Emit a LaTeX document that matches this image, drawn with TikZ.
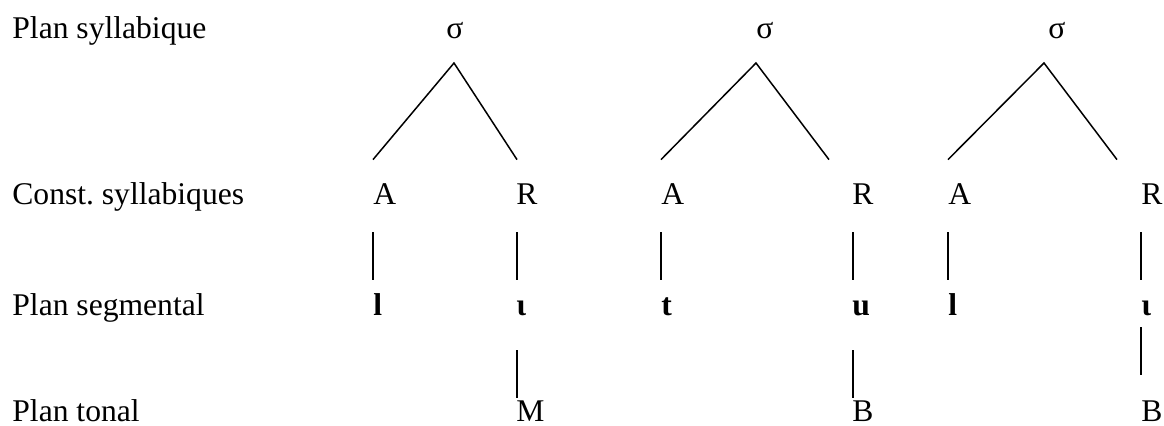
\documentclass[tikz,border=0pt]{standalone}
\usepackage{fontspec}
\setmainfont{Liberation Serif}

\tikzset{
  plan/.style={anchor=base west, inner sep=0pt},
  unit/.style={anchor=base west, inner sep=0pt, text height=10pt, text depth=0pt},
  seg/.style={unit, font=\fontsize{15.8}{19}\selectfont\bfseries},
  sig/.style={anchor=base, inner sep=0pt},
  trait/.style={line width=0.75pt}
}

\begin{document}
\begin{tikzpicture}[x=0.5pt, y=-0.5pt, font=\fontsize{15.8}{19}\selectfont]
    \useasboundingbox (0,0) rectangle (1164,425);
    % plans
    \node[plan] (p1) at (12,38) {Plan syllabique};
    \node[plan] (p2) at (12,204) {Const.\ syllabiques};
    \node[plan] (p3) at (12,315) {Plan segmental};
    \node[plan] (p4) at (12,421) {Plan tonal};
    % syllabes
    \node[sig] (s1) at (455,38) {σ};
    \node[sig] (s2) at (765,38) {σ};
    \node[sig] (s3) at (1057,38) {σ};
    % constituants
    \node[unit] (a1) at (373,204) {A};
    \node[unit] (r1) at (516,204) {R};
    \node[unit] (a2) at (661,204) {A};
    \node[unit] (r2) at (852,204) {R};
    \node[unit] (a3) at (948,204) {A};
    \node[unit] (r3) at (1141,204) {R};
    % segments
    \node[seg] (l1) at (373,315) {l};
    \node[seg] (i1) at (516,315) {ɩ};
    \node[seg] (t2) at (661,315) {t};
    \node[seg] (u2) at (852,315) {u};
    \node[seg] (l3) at (948,315) {l};
    \node[seg] (i3) at (1141,315) {ɩ};
    % tons
    \node[unit] (m1) at (516,421) {M};
    \node[unit] (b2) at (852,421) {B};
    \node[unit] (b3) at (1141,421) {B};
    % arbres
    \draw[trait] ([shift={(0,-24)}]a1.north west) -- ([shift={(-1,25)}]s1.base) -- ([shift={(1,-24)}]r1.north west);
    \draw[trait] ([shift={(0,-24)}]a2.north west) -- ([shift={(-9,25)}]s2.base) -- ([shift={(-23,-24)}]r2.north west);
    \draw[trait] ([shift={(0,-24)}]a3.north west) -- ([shift={(-13,25)}]s3.base) -- ([shift={(-24,-24)}]r3.north west);
    % associations
    \draw[trait] ([shift={(0,28)}]a1.south west) -- ([shift={(0,-15)}]l1.north west);
    \draw[trait] ([shift={(1,28)}]r1.south west) -- ([shift={(1,-15)}]i1.north west);
    \draw[trait] ([shift={(0,28)}]a2.south west) -- ([shift={(0,-15)}]t2.north west);
    \draw[trait] ([shift={(1,28)}]r2.south west) -- ([shift={(1,-15)}]u2.north west);
    \draw[trait] ([shift={(0,28)}]a3.south west) -- ([shift={(0,-15)}]l3.north west);
    \draw[trait] ([shift={(0,28)}]r3.south west) -- ([shift={(0,-15)}]i3.north west);
    %\draw[trait] (l1) -- (m1);
    \draw[trait] ([shift={(1,35)}]i1.south west) -- ([shift={(1,-3)}]m1.north west);
    \draw[trait] ([shift={(1,35)}]u2.south west) -- ([shift={(1,-3)}]b2.north west);
    \draw[trait] ([shift={(0,12)}]i3.south west) -- ([shift={(0,-26)}]b3.north west);
\end{tikzpicture}
\end{document}
